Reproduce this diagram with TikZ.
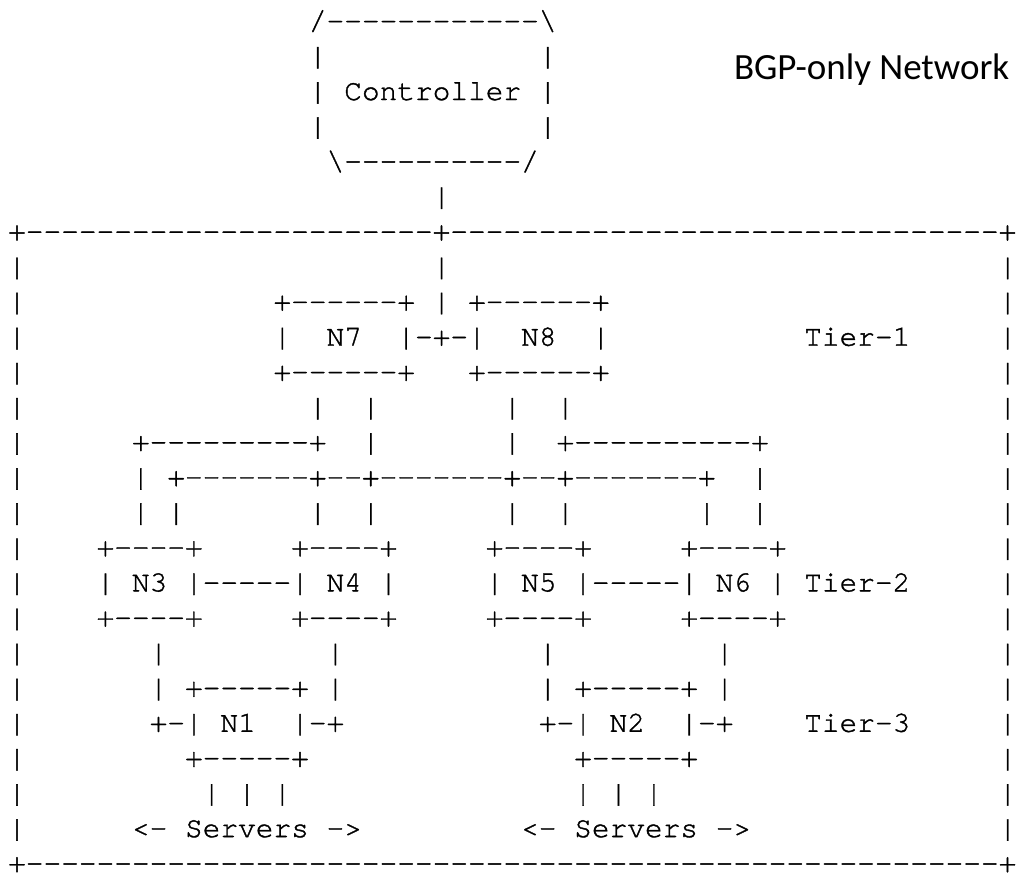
\documentclass[tikz,border=0pt]{standalone}
\usepackage{fontspec}
\setmonofont{texgyrecursor-regular.otf}[FakeBold=1.2]
\newfontfamily\calib{Carlito}
\ExplSyntaxOn
\cs_new:Npn \dsh #1 {\prg_replicate:nn {#1} {-}}
\ExplSyntaxOff
\tikzset{
  asc/.style={anchor=base west, inner sep=0pt, outer sep=0pt,
    font=\ttfamily\fontsize{29.48pt}{35pt}\selectfont},
  ttl/.style={anchor=base west, inner sep=0pt, outer sep=0pt,
    font=\calib\fontsize{37pt}{40pt}\selectfont}
}
% \chr{name}{column}{row}{text}
\newcommand\chr[4]{\node[asc] (#1) at ({8.155pt+#2*17.69pt},{-29.8pt-#3*35.1pt}) {#4};}
\begin{document}
\begin{tikzpicture}
\useasboundingbox (0,0) rectangle (1016pt,-872pt);
% controller
\chr{c0}{17}{0}{/\dsh{12}\textbackslash}
\chr{c1l}{17}{1}{|} \chr{c1r}{30}{1}{|}
\chr{c2l}{17}{2}{|} \chr{ctrl}{19}{2}{Controller} \chr{c2r}{30}{2}{|}
\chr{c3l}{17}{3}{|} \chr{c3r}{30}{3}{|}
\chr{c4}{18}{4}{\textbackslash\dsh{10}/}
\chr{c5}{24}{5}{|}
% network frame
\chr{top}{0}{6}{+\dsh{23}+\dsh{31}+}
\foreach \r in {7,...,23}{
  \chr{lb\r}{0}{\r}{|}
  \chr{rb\r}{56}{\r}{|}
}
\chr{bot}{0}{24}{+\dsh{55}+}
\node[ttl] (title) at (734pt,-80pt) {BGP-only Network};
% tier 1
\chr{c7}{24}{7}{|}
\chr{n7t}{15}{8}{+\dsh{6}+} \chr{c8}{24}{8}{|} \chr{n8t}{26}{8}{+\dsh{6}+}
\chr{n7l}{15}{9}{|} \chr{n7}{18}{9}{N7} \chr{l78}{22}{9}{|-+-|}
\chr{n8}{29}{9}{N8} \chr{n8r}{33}{9}{|} \chr{t1}{45}{9}{Tier-1}
\chr{n7b}{15}{10}{+\dsh{6}+} \chr{n8b}{26}{10}{+\dsh{6}+}
% tier1 - tier2 links
\chr{a11}{17}{11}{|~~|} \chr{b11}{28}{11}{|~~|}
\chr{a12}{7}{12}{+\dsh{9}+} \chr{b12}{20}{12}{|} \chr{c12}{28}{12}{|} \chr{d12}{31}{12}{+\dsh{10}+}
\chr{a13}{7}{13}{|} \chr{bus}{9}{13}{+\dsh{7}+\dsh{2}+\dsh{7}+\dsh{2}+\dsh{7}+} \chr{b13}{42}{13}{|}
\chr{a14}{7}{14}{|~|} \chr{b14}{17}{14}{|~~|} \chr{c14}{28}{14}{|~~|} \chr{d14}{39}{14}{|~~|}
% tier 2
\chr{n3t}{5}{15}{+\dsh{4}+} \chr{n4t}{16}{15}{+\dsh{4}+} \chr{n5t}{27}{15}{+\dsh{4}+} \chr{n6t}{38}{15}{+\dsh{4}+}
\chr{n34}{5}{16}{|~N3~|\dsh{5}|~N4~|} \chr{n56}{27}{16}{|~N5~|\dsh{5}|~N6~|} \chr{t2}{45}{16}{Tier-2}
\chr{n3b}{5}{17}{+\dsh{4}+} \chr{n4b}{16}{17}{+\dsh{4}+} \chr{n5b}{27}{17}{+\dsh{4}+} \chr{n6b}{38}{17}{+\dsh{4}+}
% tier 2 - tier 3 links
\chr{a18}{8}{18}{|} \chr{b18}{18}{18}{|} \chr{c18}{30}{18}{|} \chr{d18}{40}{18}{|}
\chr{a19}{8}{19}{|~+\dsh{5}+~|} \chr{b19}{30}{19}{|~+\dsh{5}+~|}
% tier 3
\chr{n1}{8}{20}{+-|~N1~~|-+} \chr{n2}{30}{20}{+-|~N2~~|-+} \chr{t3}{45}{20}{Tier-3}
\chr{n1b}{10}{21}{+\dsh{5}+} \chr{n2b}{32}{21}{+\dsh{5}+}
\chr{s1}{11}{22}{|~|~|} \chr{s2}{32}{22}{|~|~|}
\chr{sv1}{7}{23}{<-~Servers~->} \chr{sv2}{29}{23}{<-~Servers~->}
\end{tikzpicture}
\end{document}
